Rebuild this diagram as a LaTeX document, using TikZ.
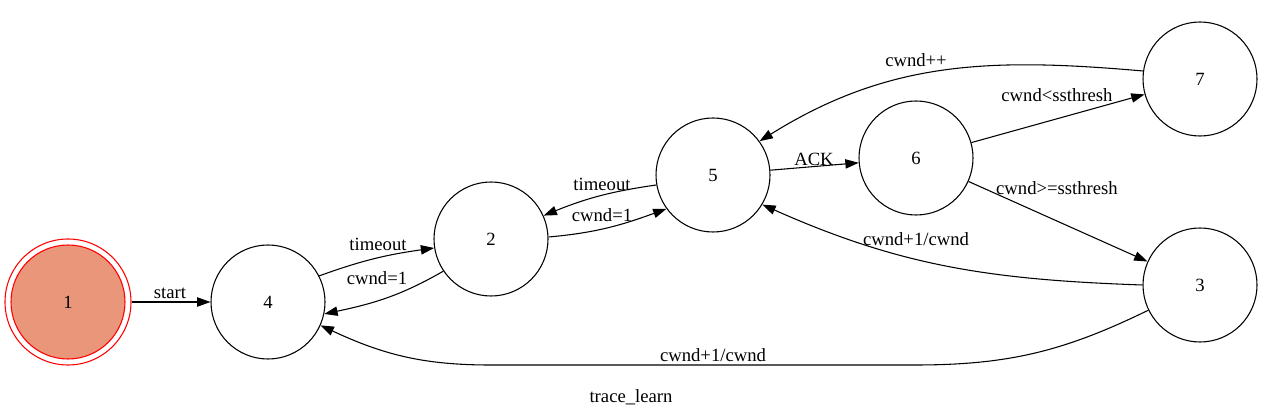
\documentclass[tikz,border=0pt]{standalone}
\usepackage{fontspec}
\setmainfont{Liberation Serif}
\usetikzlibrary{arrows.meta}
\definecolor{salmonfill}{HTML}{E9967A}
\begin{document}
\begin{tikzpicture}[x=0.75pt,y=0.75pt,
  every node/.style={font=\fontsize{14}{16}\selectfont},
  state/.style={circle,draw,line width=0.8pt,minimum size=85.5pt,inner sep=0pt},
  lbl/.style={inner sep=0pt},
  edge/.style={line width=0.8pt,-{Triangle[length=10pt,width=7pt]}},
]
\useasboundingbox (0,0) rectangle (1263,-416);
% nodes
\node[state,draw=red,minimum size=94.5pt] (1) at (68,-302) {};
\node[state,draw=red,fill=salmonfill] (1in) at (68,-302) {1};
\node[state] (4) at (268,-302) {4};
\node[state] (2) at (491,-239) {2};
\node[state] (5) at (713,-175) {5};
\node[state] (6) at (916,-158) {6};
\node[state] (7) at (1200,-79) {7};
\node[state] (3) at (1200,-285) {3};
% edges
\draw[edge] (1) -- (4);
\draw[edge] (4.27) to[out=20,in=188] (2.189);
\draw[edge] (2.214) to[out=210,in=12] (4.348);
\draw[edge] (5.190) to[out=188,in=22] (2.24);
\draw[edge] (2.2) to[out=5,in=200] (5.216);
\draw[edge] (5) -- (6);
\draw[edge] (6) -- (7);
\draw[edge] (6) -- (3);
\draw[edge] (7.172) to[out=175,in=32] (5.36);
\draw[edge] (3.180) to[out=178,in=-24] (5.329);
\coordinate (b1) at (915,-365);
\coordinate (b2) at (490,-365);
\draw[edge] (3.206) to[out=206,in=0] (b1) -- (b2) to[out=180,in=-25] (4.336);
% labels
\node[lbl] (l1) at (170,-293) {start};
\node[lbl] (l2) at (378,-244) {timeout};
\node[lbl] (l3) at (377,-278) {cwnd=1};
\node[lbl] (l4) at (602,-184) {timeout};
\node[lbl] (l5) at (602,-215) {cwnd=1};
\node[lbl] (l6) at (814,-159) {ACK};
\node[lbl] (l7) at (1057,-95) {cwnd<ssthresh};
\node[lbl] (l8) at (916,-60) {cwnd++};
\node[lbl] (l9) at (1057,-188) {cwnd>=ssthresh};
\node[lbl] (l10) at (916,-239) {cwnd+1/cwnd};
\node[lbl] (l11) at (713,-355) {cwnd+1/cwnd};
\node[lbl] (title) at (631,-397) {trace\_learn};
\end{tikzpicture}
\end{document}
